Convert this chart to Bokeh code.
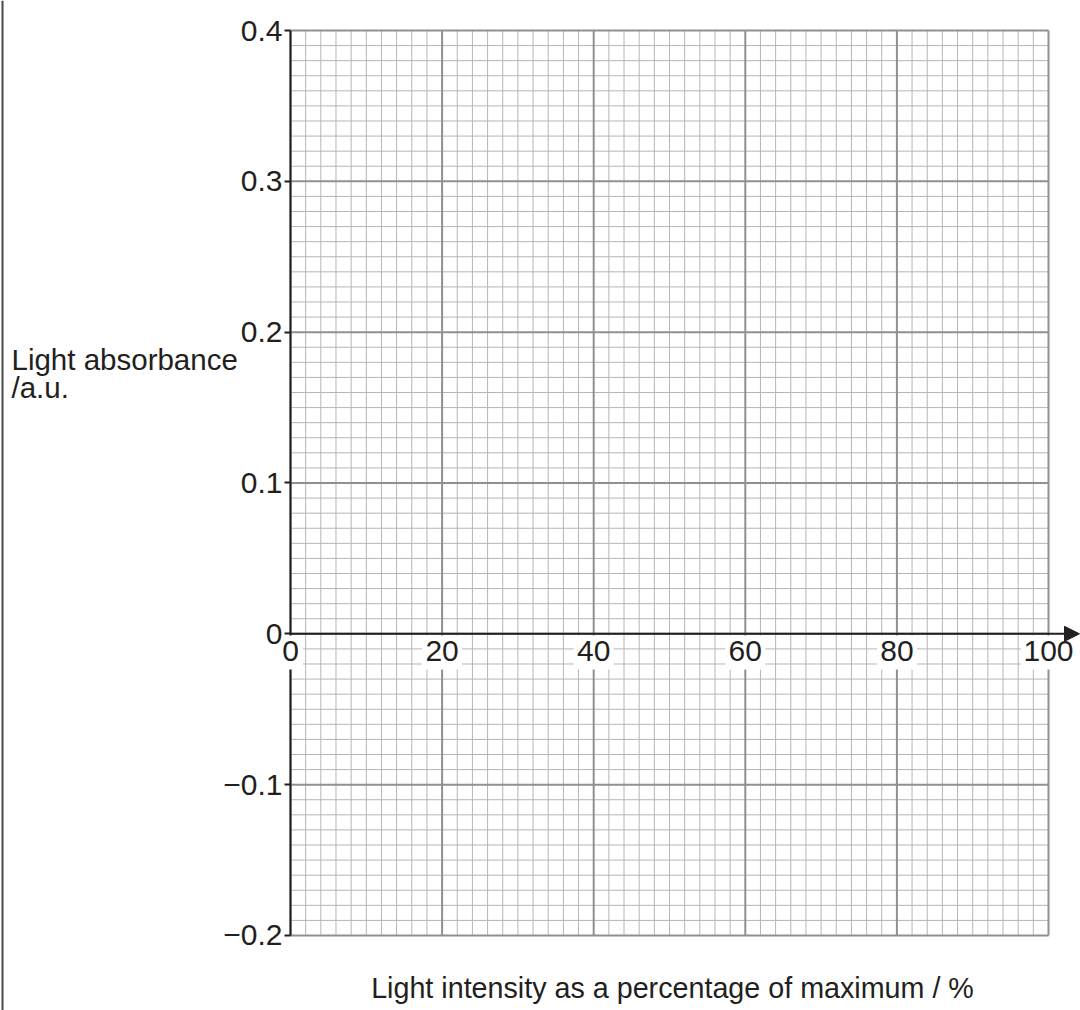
import numpy as np
from bokeh.plotting import figure
from bokeh.models import Range1d, LinearAxis, FixedTicker, Label, Arrow, NormalHead
from bokeh.embed import file_html
from bokeh.resources import INLINE

# ---- data (axis ticks / labels of the blank graph paper) ----
x_ticks = [0, 20, 40, 60, 80, 100]
x_tick_labels = ["0", "20", "40", "60", "80", "100"]
y_ticks = [-0.2, -0.1, 0.0, 0.1, 0.2, 0.3, 0.4]
y_tick_labels = ["\u22120.2", "\u22120.1", "0", "0.1", "0.2", "0.3", "0.4"]
x_minor_step = 2
y_minor_step = 0.01
x_title = "Light intensity as a percentage of maximum / %"
y_title_lines = ["Light absorbance", "/a.u."]

# ---- layout: frame covers the whole canvas ----
W, H = 1080, 1010
PX_X = 7.58            # pixels per x unit
PX_Y = 1508.333        # pixels per y unit
x0 = -290 / PX_X
x1 = x0 + W / PX_X
y1 = 0.4 + 30 / PX_Y
y0 = y1 - H / PX_Y


def X(ax):  # canvas pixel -> data x
    return x0 + ax / PX_X


def Y(ay):  # canvas pixel -> data y
    return y1 - ay / PX_Y


FONT = "Liberation Sans"
INK = "#231f20"
xmin, xmax = x_ticks[0], x_ticks[-1]
ymin, ymax = y_ticks[0], y_ticks[-1]

p = figure(width=W, height=H, output_backend="svg", toolbar_location=None,
           x_range=Range1d(x0, x1), y_range=Range1d(y0, y1),
           x_axis_location=None, y_axis_location=None, min_border=0)
p.outline_line_color = None
p.background_fill_color = "white"
p.border_fill_color = "white"
p.grid.visible = False

# page border line on the left
p.segment(x0=[X(2)], y0=[y0], x1=[X(2)], y1=[y1], line_color="#4a4a4a", line_width=2)

# graph paper grid
xs = np.arange(xmin, xmax + 1e-9, x_minor_step)
ys = np.round(np.arange(ymin, ymax + 1e-9, y_minor_step), 4)
x_major_mask = np.isin(xs, x_ticks)
y_major_mask = np.isin(np.round(ys, 4), np.round(y_ticks, 4))
MINOR, MAJOR = "#b5b5b5", "#909090"
p.segment(x0=xs[~x_major_mask], y0=ymin, x1=xs[~x_major_mask], y1=ymax, line_color=MINOR, line_width=1)
p.segment(x0=xmin, y0=ys[~y_major_mask], x1=xmax, y1=ys[~y_major_mask], line_color=MINOR, line_width=1)
p.segment(x0=xs[x_major_mask], y0=ymin, x1=xs[x_major_mask], y1=ymax, line_color=MAJOR, line_width=2)
p.segment(x0=xmin, y0=ys[y_major_mask], x1=xmax, y1=ys[y_major_mask], line_color=MAJOR, line_width=2)

# y axis line
p.segment(x0=[0], y0=[ymin], x1=[0], y1=[ymax], line_color=INK, line_width=2)

# white backgrounds behind the x tick labels
box_w = [10 + 15 * len(s) for s in x_tick_labels]
p.rect(x=x_ticks, y=Y(652), width=box_w, height=34, width_units="screen", height_units="screen",
       fill_color="white", line_color=None)

# x axis with arrow
p.add_layout(Arrow(end=NormalHead(size=15, fill_color=INK, line_color=INK, line_width=1),
                   x_start=0, y_start=0, x_end=X(1079), y_end=0,
                   line_color=INK, line_width=2))

# axes (fixed at the origin)
yaxis = LinearAxis(fixed_location=0, ticker=FixedTicker(ticks=y_ticks))
yaxis.major_label_overrides = {t: l for t, l in zip(y_ticks, y_tick_labels)}
yaxis.axis_line_color = None
yaxis.major_tick_line_color = INK
yaxis.major_tick_line_width = 2
yaxis.major_tick_out = 6
yaxis.major_tick_in = 0
yaxis.minor_tick_line_color = None
yaxis.minor_tick_out = 0
yaxis.major_label_standoff = 2
yaxis.major_label_text_font = FONT
yaxis.major_label_text_font_size = "30px"
yaxis.major_label_text_color = INK
p.add_layout(yaxis, "left")

xaxis = LinearAxis(fixed_location=0, ticker=FixedTicker(ticks=x_ticks))
xaxis.major_label_overrides = {t: l for t, l in zip(x_ticks, x_tick_labels)}
xaxis.axis_line_color = None
xaxis.major_tick_line_color = None
xaxis.major_tick_out = 0
xaxis.major_tick_in = 0
xaxis.minor_tick_line_color = None
xaxis.minor_tick_out = 0
xaxis.major_label_standoff = 7
xaxis.major_label_text_font = FONT
xaxis.major_label_text_font_size = "30px"
xaxis.major_label_text_color = INK
p.add_layout(xaxis, "below")

# axis titles
for i, line in enumerate(y_title_lines):
    p.add_layout(Label(x=X(11), y=Y(359 + 28 * i), text=line, text_font=FONT,
                       text_font_size="29.5px", text_color=INK,
                       text_align="left", text_baseline="alphabetic"))
p.add_layout(Label(x=X(672), y=Y(987), text=x_title, text_font=FONT,
                   text_font_size="28.7px", text_color=INK,
                   text_align="center", text_baseline="alphabetic"))

open("out.html", "w").write(file_html(p, INLINE))
